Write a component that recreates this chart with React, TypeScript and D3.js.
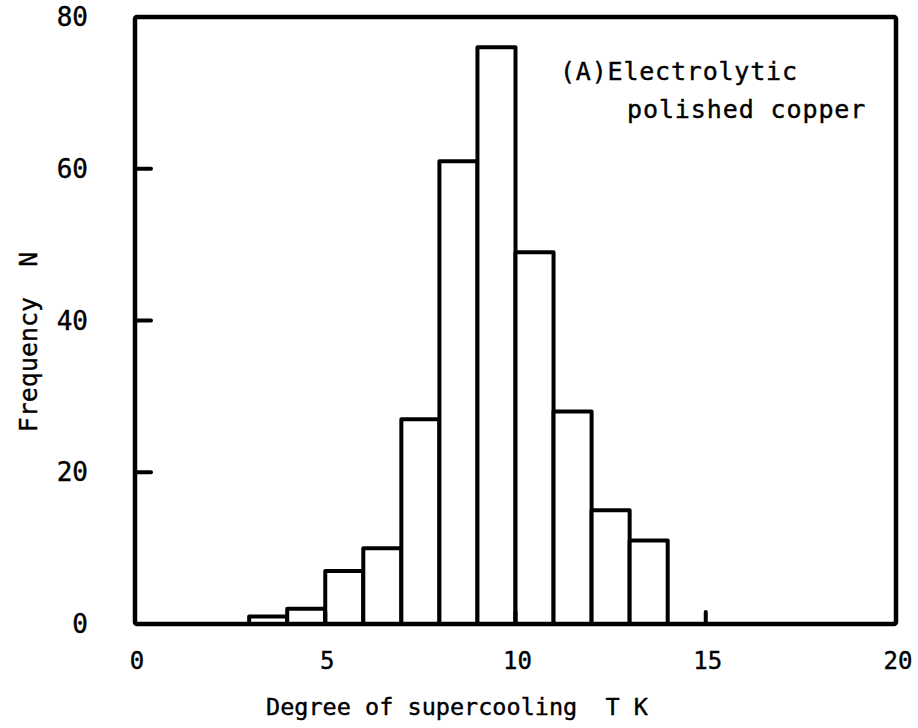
import React from "react";
import * as d3 from "d3";

const binStarts = [3, 4, 5, 6, 7, 8, 9, 10, 11, 12, 13];
const frequencies = [1, 2, 7, 10, 27, 61, 76, 49, 28, 15, 11];
const xTicks = [0, 5, 10, 15, 20];
const yTicks = [0, 20, 40, 60, 80];
const xTitle = "Degree of supercooling  T K";
const yTitle = "Frequency  N";
const noteLines = ["(A)Electrolytic", "polished copper"];

const W = 918;
const H = 728;
const FONT = "'DejaVu Sans Mono', monospace";

export default function App() {
  const x = d3.scaleLinear().domain([0, 20]).range([135, 896]);
  const y = d3.scaleLinear().domain([0, 80]).range([624, 17]);
  const bins = binStarts.map((s, i) => ({ x0: s, x1: s + 1, n: frequencies[i] }));

  return (
    <svg width={W} height={H} style={{ position: "absolute", left: 0, top: 0, background: "#fff" }}>
      <g fill="#fff" stroke="#000" strokeWidth={4} strokeLinejoin="round">
        {bins.map((b, i) => (
          <rect key={i} x={x(b.x0)} y={y(b.n)} width={x(b.x1) - x(b.x0)} height={y(0) - y(b.n)} />
        ))}
      </g>
      <g stroke="#000" strokeWidth={4} strokeLinecap="round">
        {yTicks.filter((t) => t > 0 && t < 80).map((t) => (
          <line key={t} x1={x(0)} x2={x(0) + 16} y1={y(t)} y2={y(t)} />
        ))}
        {xTicks.filter((t) => t > 0 && t < 20).map((t) => (
          <line key={t} x1={x(t)} x2={x(t)} y1={y(0)} y2={y(0) - 12} />
        ))}
      </g>
      <rect x={x(0)} y={y(80)} width={x(20) - x(0)} height={y(0) - y(80)} fill="none" stroke="#000" strokeWidth={4.5} rx={2} />
      <g fontFamily={FONT} fill="#000" stroke="#000" strokeWidth={0.4}>
        {yTicks.map((t) => (
          <text key={t} x={88} y={y(t)} textAnchor="end" dominantBaseline="central" fontSize={26}>
            {t}
          </text>
        ))}
        {xTicks.map((t) => (
          <text key={t} x={x(t) + 2} y={661} textAnchor="middle" dominantBaseline="central" fontSize={24}>
            {t}
          </text>
        ))}
        <text x={266} y={715} fontSize={23.5} style={{ whiteSpace: "pre" }}>
          {xTitle}
        </text>
        <text
          transform={`translate(37,342) rotate(-90)`}
          textAnchor="middle"
          fontSize={25}
          style={{ whiteSpace: "pre" }}
        >
          {yTitle}
        </text>
        <text x={560} y={80} fontSize={25} letterSpacing={0.8}>
          {noteLines[0]}
        </text>
        <text x={627} y={118} fontSize={25} letterSpacing={0.9}>
          {noteLines[1]}
        </text>
      </g>
    </svg>
  );
}
